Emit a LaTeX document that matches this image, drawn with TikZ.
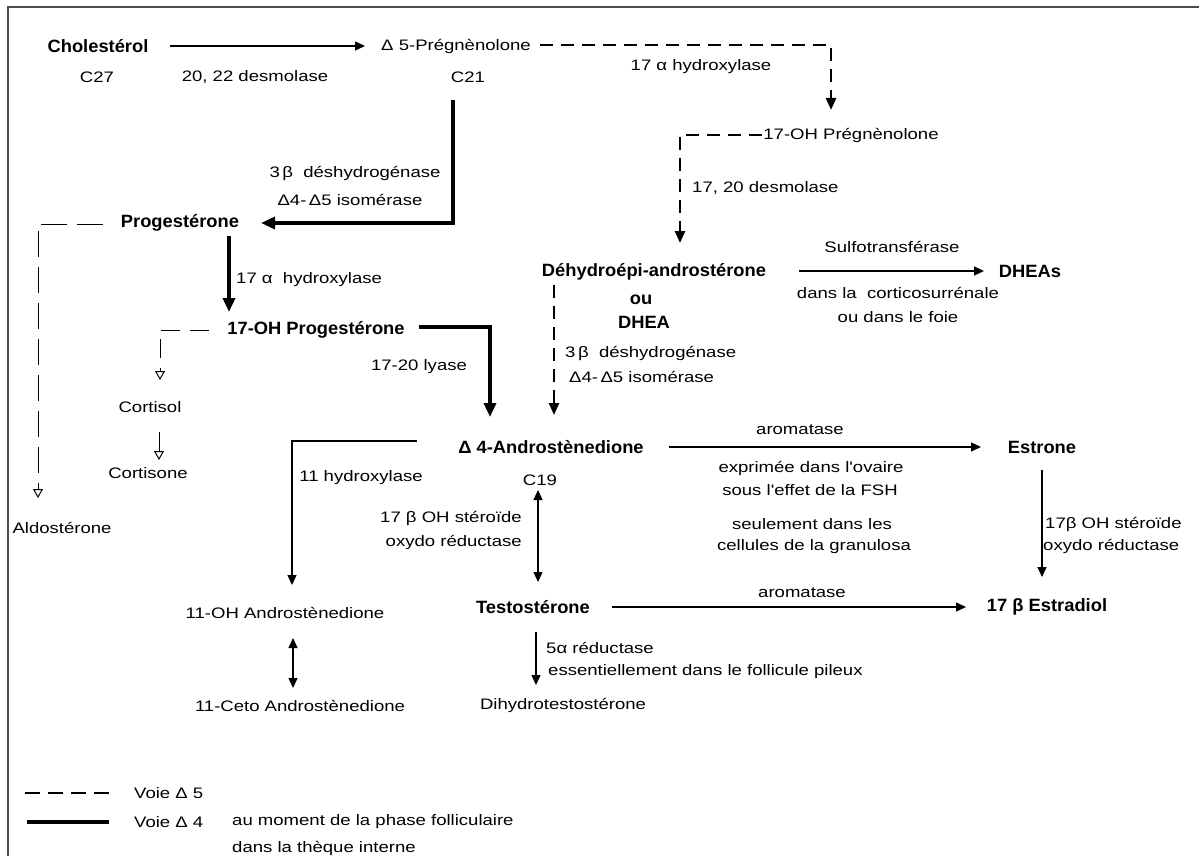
\documentclass[tikz,border=0pt]{standalone}
\usepackage{fontspec}
\setmainfont{Liberation Sans}
\newfontfamily\regf{Liberation Sans}[FakeStretch=1.22]
\newfontfamily\boldf{Liberation Sans}[FakeStretch=1.03]
\usetikzlibrary{arrows.meta,calc}
\begin{document}
\begin{tikzpicture}[x=1pt,y=-1pt,
  every node/.style={inner sep=0pt, font=\regf\fontsize{15.2}{18}\selectfont},
  bld/.style={font=\boldf\bfseries\fontsize{17.8}{20}\selectfont},
  thinarr/.style={line width=1.3pt, -{Triangle[length=10pt,width=9pt]}},
  dblarr/.style={line width=1.3pt, {Triangle[length=10pt,width=9pt]}-{Triangle[length=10pt,width=9pt]}},
  thickline/.style={line width=4pt},
  thickarr/.style={line width=4pt, -{Triangle[length=14pt,width=12pt]}},
  dfive/.style={line width=2.5pt, dash pattern=on 13pt off 8pt},
  dfivearr/.style={dfive, -{Triangle[length=12pt,width=10pt]}},
  light/.style={line width=1pt, dash pattern=on 26pt off 10pt, -{Triangle[open,length=9pt,width=10pt]}},
  lightb/.style={line width=1pt, dash pattern=on 19pt off 10pt, -{Triangle[open,length=9pt,width=10pt]}},
]
\useasboundingbox (0,0) rectangle (1199,856);
\draw[line width=2pt, black!70] (8,856) -- (8,7) -- (1199,7);

% nodes
\node[bld] (chol) at (98,46) {Cholestérol};
\node (c27) at (97,77) {C27};
\node (desm) at (255,77) {20, 22 desmolase};
\node (preg) at (456,46) {Δ 5-Prégnènolone};
\node (c21) at (468,77) {C21};
\node (hyd1) at (701,67) {17 α hydroxylase};
\node (ohpreg) at (851,135) {17-OH Prégnènolone};
\node[anchor=west] (desm2) at (692,188) {17, 20 desmolase};
\node (dehy1) at (355,173) {3\,β\ \ déshydrogénase};
\node (iso1) at (350,200) {Δ4-\,Δ5 isomérase};
\node[bld] (prog) at (180,223) {Progestérone};
\node[anchor=west] (hyd2) at (236,280) {17 α\ \ hydroxylase};
\node[bld] (ohprog) at (316,330) {17-OH Progestérone};
\node (lyase) at (419,367) {17-20 lyase};
\node (cortisol) at (150,407) {Cortisol};
\node (cortisone) at (148,473) {Cortisone};
\node (aldo) at (62,528) {Aldostérone};
\node[bld] (dhea) at (654,272) {Déhydroépi-androstérone};
\node[bld] (ou) at (641,300) {ou};
\node[bld] (dheab) at (644,322) {DHEA};
\node[anchor=west] (dehy2) at (565,353) {3\,β\ \ déshydrogénase};
\node[anchor=west] (iso2) at (569,377) {Δ4-\,Δ5 isomérase};
\node (sulfo) at (892,247) {Sulfotransférase};
\node[bld] (dheas) at (1030,271) {DHEAs};
\node (cortico) at (898,293) {dans la\ \ corticosurrénale};
\node (foie) at (898,317) {ou dans le foie};
\node[bld] (andro) at (551,447) {Δ 4-Androstènedione};
\node (c19) at (540,480) {C19};
\node (arom1) at (800,430) {aromatase};
\node[bld] (estrone) at (1042,447) {Estrone};
\node (expr1) at (811,468) {exprimée dans l'ovaire};
\node (expr2) at (810,490) {sous l'effet de la FSH};
\node (seul) at (812,524) {seulement dans les};
\node (cell) at (814,547) {cellules de la granulosa};
\node[anchor=west] (ohs2) at (1045,524) {17β OH stéroïde};
\node[anchor=west] (oxy2) at (1043,546) {oxydo réductase};
\node[bld] (estradiol) at (1047,607) {17 β Estradiol};
\node[bld] (testo) at (533,607) {Testostérone};
\node (arom2) at (802,593) {aromatase};
\node (hyd11) at (361,478) {11 hydroxylase};
\node[anchor=east] (ohs1) at (522,518) {17 β OH stéroïde};
\node[anchor=east] (oxy1) at (522,542) {oxydo réductase};
\node (oha) at (285,613) {11-OH Androstènedione};
\node (ceto) at (300,706) {11-Ceto Androstènedione};
\node[anchor=west] (red) at (546,648) {5α réductase};
\node[anchor=west] (ess) at (548,672) {essentiellement dans le follicule pileux};
\node (dht) at (563,705) {Dihydrotestostérone};
\node[anchor=west] (leg5) at (134,793) {Voie Δ 5};
\node[anchor=west] (leg4) at (134,822) {Voie Δ 4};
\node[anchor=west] (au) at (232,822) {au moment de la phase folliculaire};
\node[anchor=west] (theque) at (232,848) {dans la thèque interne};

% connectors
\draw[thinarr] ($(chol.center)+(72,0)$) -- ($(preg.center)+(-91,0)$);
\draw[dfivearr] ($(preg.center)+(84,-1)$) -| ($(ohpreg.center)+(-20,-25)$);
\draw[dfivearr] ($(ohpreg.center)+(-89,0)$) -| ($(dhea.center)+(26,-29)$);
\draw[thickarr] ($(c21.center)+(-15,23)$) |- ($(prog.center)+(81,0)$);
\draw[thickarr] ($(prog.center)+(49,13)$) -- ($(ohprog.center)+(-87,-18)$);
\draw[thickarr] ($(ohprog.center)+(103,-3)$) -| ($(andro.center)+(-61,-30)$);
\draw[dfivearr] ($(dhea.center)+(-100,13)$) -- ($(andro.center)+(3,-32)$);
\draw[thinarr] ($(dhea.center)+(145,-1)$) -- ($(dheas.center)+(-46,0)$);
\draw[thinarr] ($(andro.center)+(118,0)$) -- ($(estrone.center)+(-61,0)$);
\draw[thinarr] ($(estrone.center)+(0,23)$) -- ($(estradiol.center)+(-5,-30)$);
\draw[thinarr] ($(testo.center)+(79,0)$) -- ($(estradiol.center)+(-81,0)$);
\draw[thinarr] ($(andro.center)+(-134,-6)$) -| ($(oha.center)+(7,-28)$);
\draw[dblarr] ($(c19.center)+(-2,10)$) -- ($(testo.center)+(5,-25)$);
\draw[dblarr] ($(oha.center)+(8,25)$) -- ($(ceto.center)+(-7,-18)$);
\draw[thinarr] ($(testo.center)+(3,25)$) -- ($(dht.center)+(-27,-20)$);
\draw[light] ($(prog.center)+(-77,1)$) -| ($(aldo.center)+(-24,-30)$);
\draw[lightb] ($(ohprog.center)+(-107,0)$) -| ($(cortisol.center)+(10,-27)$);
\draw[lightb] ($(cortisol.center)+(9,25)$) -- ($(cortisone.center)+(11,-13)$);

% legend
\draw[line width=2.5pt, dash pattern=on 15pt off 8pt] (25,793) -- ($(leg5.west)+(-25,0)$);
\draw[thickline] (27,822) -- ($(leg4.west)+(-25,0)$);
\end{tikzpicture}
\end{document}
